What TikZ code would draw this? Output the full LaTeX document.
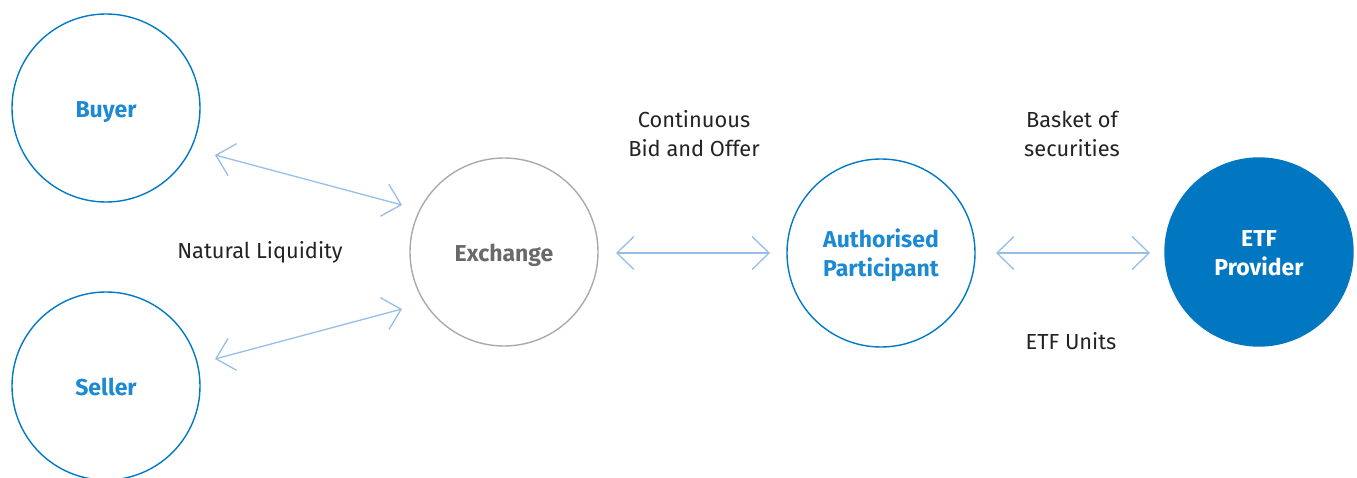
\documentclass[tikz,border=0pt]{standalone}
\usepackage{fontspec}
\setmainfont{Fira Sans}
\usetikzlibrary{arrows.meta}
\definecolor{cblue}{RGB}{0,122,198}
\definecolor{tblue}{RGB}{28,138,210}
\definecolor{fblue}{RGB}{0,119,192}
\definecolor{cgray}{RGB}{170,170,170}
\definecolor{tgray}{RGB}{105,105,105}
\definecolor{ablue}{RGB}{150,190,232}
\definecolor{ttext}{RGB}{35,35,35}
\newcommand{\lowtxt}[1]{\raisebox{-3.5pt}[\height][\depth]{\begin{tabular}{@{}c@{}}#1\end{tabular}}}
\tikzset{
  circ/.style={circle,minimum size=188pt,inner sep=0pt,line width=1.4pt,font=\fontsize{23}{29}\selectfont\bfseries,align=center},
  bluecirc/.style={circ,draw=cblue,text=tblue},
  graycirc/.style={circ,draw=cgray,text=tgray},
  fillcirc/.style={circ,draw=fblue,fill=fblue,text=white},
  lbl/.style={font=\fontsize{21.8}{29}\selectfont,text=ttext,align=center},
  dbl/.style={draw=ablue,line width=1.3pt,{Straight Barb[length=17pt,width=33pt]}-{Straight Barb[length=17pt,width=33pt]}}
}
\begin{document}
\begin{tikzpicture}[x=1pt,y=-1pt]
\useasboundingbox (0,0) rectangle (1357,478);
\node[bluecirc] (buyer) at (106,108) {\lowtxt{Buyer}};
\node[bluecirc] (seller) at (106,386) {\lowtxt{Seller}};
\node[graycirc] (exchange) at (504,252) {\lowtxt{Exchange}};
\node[bluecirc] (ap) at (881,253) {\lowtxt{Authorised\\Participant}};
\node[fillcirc] (etf) at (1259,252) {\lowtxt{ETF\\Provider}};
\node[lbl] (nl) at (260,252) {Natural Liquidity};
\node[lbl] (cbo) at (694,134) {Continuous\\Bid and Offer};
\node[lbl] (bas) at (1072,134) {Basket of\\securities};
\node[lbl] (units) at (1071,341) {ETF Units};
\coordinate (b1) at (215,155);
\coordinate (b2) at (402,205);
\coordinate (s1) at (215,359);
\coordinate (s2) at (402,309);
\coordinate (e1) at (616,253);
\coordinate (e2) at (770,253);
\coordinate (a1) at (996,253);
\coordinate (a2) at (1150,253);
\draw[dbl] (b1) -- (b2);
\draw[dbl] (s1) -- (s2);
\draw[dbl] (e1) -- (e2);
\draw[dbl] (a1) -- (a2);
\end{tikzpicture}
\end{document}
